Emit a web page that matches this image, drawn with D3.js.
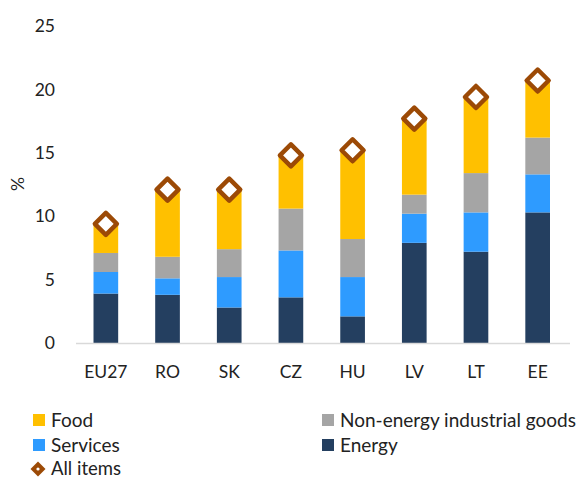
<!DOCTYPE html>
<html><head><meta charset="utf-8">
<script src="https://cdn.jsdelivr.net/npm/d3@7"></script>
<style>body{margin:0;background:#fff;} text{font-family:Lato,"Open Sans",sans-serif;}</style>
</head><body><svg id="c" width="584" height="480"></svg>
<script>
const categories = ["EU27","RO","SK","CZ","HU","LV","LT","EE"];
const energy   = [3.9, 3.8, 2.8, 3.6, 2.1, 7.9, 7.2, 10.3];
const services = [1.7, 1.3, 2.4, 3.7, 3.1, 2.3, 3.1, 3.0];
const neig     = [1.5, 1.7, 2.2, 3.3, 3.0, 1.5, 3.1, 2.9];
const food     = [2.3, 5.3, 4.7, 4.1, 7.1, 6.1, 6.0, 4.5];
const allItems = [9.4, 12.1, 12.1, 14.8, 15.2, 17.7, 19.4, 20.7];
const yTicks = [0,5,10,15,20,25];
const seriesNames = ["Energy","Services","Non-energy industrial goods","Food"];
const seriesColors = ["#243F60","#2E9BFF","#A5A5A5","#FFC000"];
const diamondColor = "#9C4A06";

const svg = d3.select("#c");
const x = d3.scaleBand().domain(categories).range([75,568.5]).paddingInner(0.6).paddingOuter(0.3);
const y = d3.scaleLinear().domain([0,25]).range([343,26]);

const rows = categories.map((c,i)=>({cat:c, "Energy":energy[i], "Services":services[i], "Non-energy industrial goods":neig[i], "Food":food[i]}));
const stacked = d3.stack().keys(seriesNames)(rows);

svg.append("g").selectAll("g").data(stacked).join("g")
  .attr("fill",(d,i)=>seriesColors[i])
  .selectAll("rect").data(d=>d).join("rect")
  .attr("x",d=>x(d.data.cat)).attr("width",x.bandwidth())
  .attr("y",d=>y(d[1])).attr("height",d=>y(d[0])-y(d[1]));

// x axis line
svg.append("line").attr("x1",76).attr("x2",570).attr("y1",y(0)+0.5).attr("y2",y(0)+0.5)
  .attr("stroke","#d9d9d9").attr("stroke-width",1.5);

// y tick labels
svg.append("g").selectAll("text").data(yTicks).join("text")
  .attr("x",55).attr("y",d=>y(d)).attr("dy","0.35em").attr("text-anchor","end")
  .attr("font-size",17.5).attr("fill","#222").text(d=>d);

// x labels
svg.append("g").selectAll("text").data(categories).join("text")
  .attr("x",d=>x(d)+x.bandwidth()/2).attr("y",372).attr("dy","0.35em").attr("text-anchor","middle")
  .attr("font-size",17.5).attr("fill","#222").text(d=>d);

// y title
svg.append("text").attr("transform","translate(18,184) rotate(-90)").attr("text-anchor","middle")
  .attr("dy","0.35em").attr("font-size",17.5).attr("fill","#222").text("%");

// diamonds
const dm = 11;
const diamondPath = `M0,${-dm}L${dm},0L0,${dm}L${-dm},0Z`;
svg.append("g").selectAll("path").data(allItems).join("path")
  .attr("d",diamondPath)
  .attr("transform",(d,i)=>`translate(${x(categories[i])+x.bandwidth()/2},${y(d)})`)
  .attr("fill","#fff").attr("stroke",diamondColor).attr("stroke-width",4.5).attr("stroke-linejoin","round");

// legend
const legend = [
  {name:"Food", color:"#FFC000", x:33, y:420},
  {name:"Non-energy industrial goods", color:"#A5A5A5", x:322, y:420},
  {name:"Services", color:"#2E9BFF", x:33, y:445},
  {name:"Energy", color:"#243F60", x:322, y:445}
];
const lg = svg.append("g");
lg.selectAll("rect").data(legend).join("rect")
  .attr("x",d=>d.x).attr("y",d=>d.y-6).attr("width",12).attr("height",12).attr("fill",d=>d.color);
lg.selectAll("text").data(legend).join("text")
  .attr("x",d=>d.x+18).attr("y",d=>d.y).attr("dy","0.35em").attr("font-size",19).attr("fill","#222").text(d=>d.name);
const ld = 7.5;
lg.append("path").attr("d",`M0,${-ld}L${ld},0L0,${ld}L${-ld},0Z`).attr("transform","translate(38,469)")
  .attr("fill",diamondColor);
lg.append("circle").attr("cx",38).attr("cy",469).attr("r",1.6).attr("fill","#fff");
lg.append("text").attr("x",51).attr("y",469).attr("dy","0.35em").attr("font-size",18.5).attr("fill","#222").text("All items");
</script></body></html>
